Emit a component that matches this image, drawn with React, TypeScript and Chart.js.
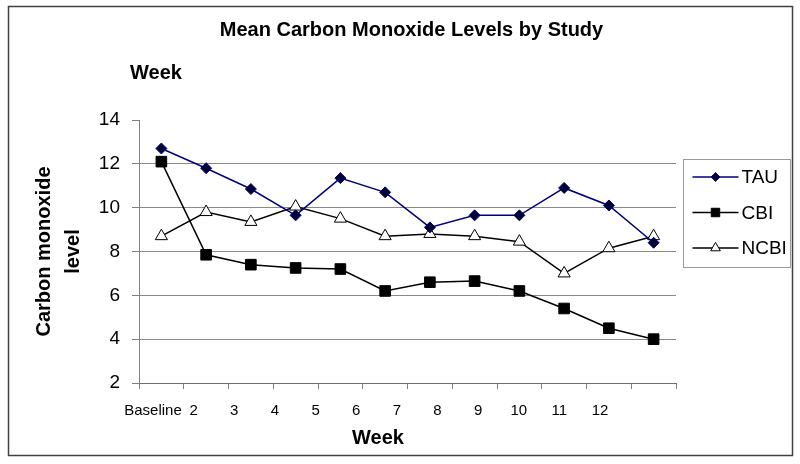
import React, { useEffect, useRef } from 'react';
import { Chart, registerables } from 'chart.js';

Chart.register(...registerables);

// ---- data ----
const weekLabels = ['Baseline', '2', '3', '4', '5', '6', '7', '8', '9', '10', '11', '12'];
const tauValues = [12.7, 11.8, 10.85, 9.65, 11.35, 10.7, 9.1, 9.65, 9.65, 10.9, 10.1, 8.4];
const cbiValues = [12.1, 7.85, 7.4, 7.25, 7.2, 6.2, 6.6, 6.65, 6.2, 5.4, 4.5, 4.0];
const ncbiValues = [8.7, 9.8, 9.35, 10.05, 9.5, 8.7, 8.8, 8.7, 8.45, 7.0, 8.15, 8.7];
const seriesNames = ['TAU', 'CBI', 'NCBI'];
const yMin = 2;
const yMax = 14;
const yStep = 2;
const chartTitle = 'Mean Carbon Monoxide Levels by Study';
const chartTitleLine2 = 'Week';
const xAxisTitle = 'Week';
const yAxisTitle = ['Carbon monoxide', 'level'];

// label axis range (the reference's week labels are spaced tighter than the data bands)
const labelAxisMin = -0.345;
const labelAxisMax = 12.87;

const FONT = "'Liberation Sans', Arial, Helvetica, sans-serif";

function drawMarker(ctx: CanvasRenderingContext2D, style: string, x: number, y: number, r: number, fill: string, stroke: string, lw: number) {
  ctx.save();
  ctx.beginPath();
  if (style === 'rectRot') {
    ctx.moveTo(x - r, y);
    ctx.lineTo(x, y - r);
    ctx.lineTo(x + r, y);
    ctx.lineTo(x, y + r);
    ctx.closePath();
  } else if (style === 'rect') {
    const s = r * Math.SQRT1_2;
    ctx.rect(x - s, y - s, 2 * s, 2 * s);
  } else {
    ctx.moveTo(x, y - r);
    ctx.lineTo(x + 0.866 * r, y + 0.5 * r);
    ctx.lineTo(x - 0.866 * r, y + 0.5 * r);
    ctx.closePath();
  }
  ctx.fillStyle = fill;
  ctx.fill();
  ctx.lineWidth = lw;
  ctx.strokeStyle = stroke;
  ctx.stroke();
  ctx.restore();
}

const decorPlugin = {
  id: 'decor',
  beforeDraw(chart: any) {
    const { ctx, width, height } = chart;
    ctx.save();
    ctx.fillStyle = '#ffffff';
    ctx.fillRect(0, 0, width, height);
    ctx.restore();
  },
  afterDraw(chart: any) {
    const { ctx, chartArea } = chart;
    ctx.save();
    // outer frame
    ctx.strokeStyle = '#404040';
    ctx.lineWidth = 1.5;
    ctx.strokeRect(8.5, 6.5, 784, 449);

    // titles
    ctx.fillStyle = '#000';
    ctx.font = `bold 20px ${FONT}`;
    ctx.textBaseline = 'middle';
    ctx.textAlign = 'center';
    ctx.fillText(chartTitle, (chartArea.left + chartArea.right) / 2 + 4, 30);
    ctx.textAlign = 'left';
    ctx.fillText(chartTitleLine2, chartArea.left - 9, 73);

    // x axis title centred on the week labels
    const xl = chart.scales.xl;
    const cx = xl.getPixelForValue((weekLabels.length - 1) / 2) + 1.5;
    ctx.textAlign = 'center';
    ctx.fillText(xAxisTitle, cx, 438);

    // legend
    const lx = chartArea.right + 7.5;
    const ly = chartArea.top + 39.5;
    const lw = 107;
    const lh = 108;
    ctx.strokeStyle = '#9a9a9a';
    ctx.lineWidth = 1;
    ctx.strokeRect(lx, ly, lw, lh);
    ctx.font = `19px ${FONT}`;
    ctx.textAlign = 'left';
    chart.data.datasets.forEach((ds: any, i: number) => {
      const y = ly + 17.5 + i * 35.5;
      ctx.strokeStyle = ds.borderColor;
      ctx.lineWidth = 1.5;
      ctx.beginPath();
      ctx.moveTo(lx + 9, y);
      ctx.lineTo(lx + 55, y);
      ctx.stroke();
      drawMarker(ctx, ds.pointStyle, lx + 32, y, ds.pointRadius * 0.8, ds.pointBackgroundColor, ds.pointBorderColor, 1);
      ctx.fillStyle = '#000';
      ctx.fillText(ds.label, lx + 58, y + 1);
    });
    ctx.restore();
  },
};

export default function App() {
  const canvasRef = useRef<HTMLCanvasElement | null>(null);

  useEffect(() => {
    if (!canvasRef.current) return;
    Chart.defaults.font.family = FONT;
    const chart = new Chart(canvasRef.current, {
      type: 'line',
      data: {
        labels: weekLabels,
        datasets: [
          {
            label: seriesNames[0],
            data: tauValues,
            borderColor: '#000080',
            borderWidth: 1.5,
            pointStyle: 'rectRot',
            pointRadius: 5.5,
            pointBackgroundColor: '#000033',
            pointBorderColor: '#000080',
            pointBorderWidth: 1,
            tension: 0,
          },
          {
            label: seriesNames[1],
            data: cbiValues,
            borderColor: '#000000',
            borderWidth: 1.5,
            pointStyle: 'rect',
            pointRadius: 7.5,
            pointBackgroundColor: '#000000',
            pointBorderColor: '#000000',
            pointBorderWidth: 1,
            tension: 0,
          },
          {
            label: seriesNames[2],
            data: ncbiValues,
            borderColor: '#000000',
            borderWidth: 1.5,
            pointStyle: 'triangle',
            pointRadius: 7,
            pointBackgroundColor: '#ffffff',
            pointBorderColor: '#000000',
            pointBorderWidth: 1,
            tension: 0,
          },
        ],
      },
      options: {
        responsive: false,
        animation: false,
        events: [],
        layout: { padding: { top: 120, right: 124, bottom: 31, left: 0 } },
        plugins: {
          legend: { display: false },
          title: { display: false },
          tooltip: { enabled: false },
        },
        scales: {
          x: {
            type: 'category',
            position: 'bottom',
            weight: 0,
            offset: true,
            grid: {
              offset: true,
              drawOnChartArea: false,
              drawTicks: true,
              tickLength: 6,
              color: '#808080',
            },
            border: { display: true, color: '#707070', width: 1 },
            ticks: { display: false },
          },
          xl: {
            type: 'linear',
            position: 'bottom',
            weight: 1,
            min: labelAxisMin,
            max: labelAxisMax,
            grid: { display: false, drawTicks: false },
            border: { display: false },
            afterBuildTicks: (axis: any) => {
              axis.ticks = weekLabels.map((_, i) => ({ value: i }));
            },
            ticks: {
              autoSkip: false,
              maxRotation: 0,
              minRotation: 0,
              padding: 13,
              color: '#000',
              font: { size: 15 },
              callback: (value: any) => weekLabels[Number(value)] ?? '',
            },
          },
          y: {
            type: 'linear',
            min: yMin,
            max: yMax,
            afterFit: (scale: any) => {
              scale.width = 139;
            },
            ticks: {
              stepSize: yStep,
              padding: 12,
              color: '#000',
              font: { size: 19 },
            },
            grid: {
              color: (ctx: any) => (ctx.tick && (ctx.tick.value === yMax || ctx.tick.value === yMin) ? 'rgba(0,0,0,0)' : '#8a8a8a'),
              tickColor: '#808080',
              tickLength: 7,
              lineWidth: 1,
            },
            border: { display: true, color: '#808080', width: 1 },
            title: {
              display: true,
              text: yAxisTitle,
              color: '#000',
              font: { size: 20, weight: 'bold', lineHeight: 1.45 },
              padding: { top: 29.5, bottom: 0 },
            },
          },
        },
      },
      plugins: [decorPlugin],
    } as any);
    return () => chart.destroy();
  }, []);

  return (
    <div style={{ position: 'absolute', left: 0, top: 0, width: 800, height: 464 }}>
      <canvas ref={canvasRef} width={800} height={464} style={{ display: 'block' }} />
    </div>
  );
}
